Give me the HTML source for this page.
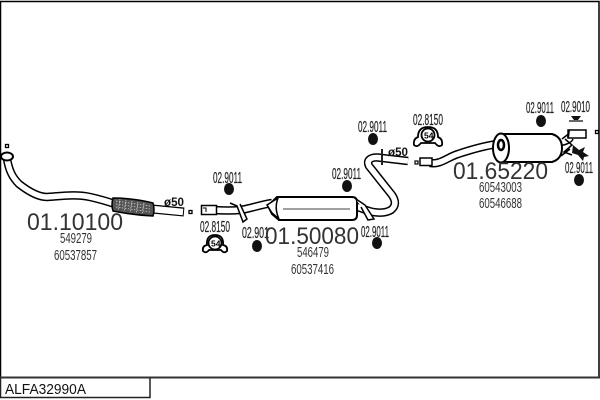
<!DOCTYPE html>
<html><head><meta charset="utf-8"><style>
html,body{margin:0;padding:0;background:#fff}
svg{display:block}
text{font-family:"Liberation Sans",sans-serif}
.s{font-size:15.500px;fill:#222;stroke:#222;stroke-width:.2}
.r{font-size:14.500px;fill:#333}
.b{font-size:24.500px;fill:#333}
</style></head><body>
<svg width="600" height="400" viewBox="0 0 600 400" xmlns="http://www.w3.org/2000/svg">
<rect width="600" height="400" fill="#fff"/>
<path d="M.5 377V1.500H599V377" fill="none" stroke="#000" stroke-width="1.500"/>
<path d="M0 377.500H600" stroke="#333" stroke-width="2"/>
<path d="M.5 378V397.500H150V378" fill="none" stroke="#222" stroke-width="1.500"/>
<text x="5" y="394" font-size="14.500" fill="#111" textLength="81" lengthAdjust="spacingAndGlyphs">ALFA32990A</text>

<!-- pipe 1 -->
<g fill="none" stroke-linejoin="round">
<path d="M7 159C9 170 12 177 19 184C28 191 38 197 47 197C62 196 76 194 90 197C99 199 106 201 115 204" stroke="#000" stroke-width="8.500"/>
<path d="M7 159C9 170 12 177 19 184C28 191 38 197 47 197C62 196 76 194 90 197C99 199 106 201 115 204" stroke="#fff" stroke-width="5.500"/>
<path d="M152 209L184 212" stroke="#000" stroke-width="9"/>
<path d="M152 209L183 212" stroke="#fff" stroke-width="6.500"/>
</g>
<ellipse cx="7" cy="156.500" rx="6" ry="4" fill="#fff" stroke="#000" stroke-width="2"/>
<path d="M113 198Q133 198 153 203Q155 210 153 216Q133 215 113 211Q111 205 113 198Z" fill="#555" stroke="#000" stroke-width="1.500"/>
<path d="M116 201L150 206M116 204L150 209M116 207L150 212M120 199L118 211M126 200L124 212M132 201L130 213M138 202L136 214M144 203L142 214" stroke="#ddd" stroke-width=".7" stroke-dasharray="1.500 1.500"/>
<rect x="5.500" y="144.500" width="3" height="3" fill="#fff" stroke="#000" stroke-width="1.300"/>
<rect x="189" y="210.500" width="3" height="3" fill="#fff" stroke="#000" stroke-width="1.300"/>

<!-- muffler 2 and pipes -->
<g fill="none" stroke-linejoin="round">
<path d="M214 210C228 211 240 211 250 208C258 206 265 204 272 203" stroke="#000" stroke-width="8.500"/>
<path d="M214 210C228 211 240 211 250 208C258 206 265 204 272 203" stroke="#fff" stroke-width="5.500"/>
<path d="M355 206L366 210C374 213 384 214 391 210C396 206 396 201 392 195L369 166C366 160 371 157 378 157.500L408 161" stroke="#000" stroke-width="8.500"/>
<path d="M355 206L366 210C374 213 384 214 391 210C396 206 396 201 392 195L369 166C366 160 371 157 378 157.500L408 161" stroke="#fff" stroke-width="5.500"/>
</g>
<rect x="201.500" y="205.500" width="15" height="9" fill="#fff" stroke="#000" stroke-width="1.500"/>
<path d="M203 208H206V212" fill="none" stroke="#000"/>
<path d="M268 206L277 197H352Q357 197 357 202V215Q357 220 352 220H279L272 214Z" fill="#fff" stroke="#000" stroke-width="2"/>
<path d="M267 205L278 198Q274 208 279 219L272 213Z" fill="#fff" stroke="#000" stroke-width="1.500"/>
<path d="M283 209H350" stroke="#000" stroke-width=".8"/>
<path d="M230 203L237 206L243 222L247 219L240 204" fill="#fff" stroke="#000" stroke-width="1.500"/>
<path d="M356 199L365 205L374 219L368 220L361 207" fill="#fff" stroke="#000" stroke-width="1.500"/>

<!-- muffler 3 and pipes -->
<rect x="381" y="149" width="2" height="16" fill="#222"/>
<rect x="415" y="161" width="3" height="3" fill="#fff" stroke="#000" stroke-width="1.200"/>
<g fill="none">
<path d="M430 163C440 165 448 157 458 154C470 150 484 146 497 144" stroke="#000" stroke-width="8.500"/>
<path d="M430 163C440 165 448 157 458 154C470 150 484 146 497 144" stroke="#fff" stroke-width="5.500"/>
<path d="M556 146C563 146 572 143 573 139" stroke="#000" stroke-width="1.500"/>
</g>
<rect x="420" y="158" width="12" height="7.500" fill="#fff" stroke="#000" stroke-width="1.500"/>
<path d="M500 134H552Q562 137 562 148Q562 159 552 162H500Z" fill="#fff" stroke="#000" stroke-width="2"/>
<ellipse cx="501" cy="148" rx="8" ry="14.500" fill="#fff" stroke="#000" stroke-width="2"/>
<ellipse cx="501" cy="145" rx="3" ry="5" fill="#fff" stroke="#000" stroke-width="2.500"/>
<path d="M562 139L571 132M565 139L572 145L564 152L572 155M561 156L570 149" fill="none" stroke="#000" stroke-width="1.500"/>
<rect x="568" y="130" width="18" height="8" fill="#fff" stroke="#000" stroke-width="1.500"/>
<path d="M569 130L568 138" stroke="#000" stroke-width="2"/>
<path d="M573 145L579 150L585 147L583 152L589 156L584 157L583 161L578 155L572 153Z" fill="#111"/>
<rect x="595.500" y="130.500" width="3" height="3" fill="#fff" stroke="#000" stroke-width="1.300"/>
<path d="M571 116H581L578 120H574Z" fill="#111"/>
<path d="M569 121H583" stroke="#000" stroke-width="1.200"/>

<!-- dots -->
<g fill="#111">
<ellipse cx="229" cy="189" rx="5" ry="6"/><ellipse cx="257" cy="246" rx="5" ry="6"/><ellipse cx="347" cy="186" rx="5" ry="6"/><ellipse cx="377" cy="243" rx="5" ry="6"/>
<ellipse cx="373" cy="139" rx="5" ry="6"/><ellipse cx="541" cy="121" rx="5" ry="6"/><ellipse cx="579" cy="180" rx="5" ry="6"/>
</g>

<!-- clamps -->
<g fill="#fff" stroke="#000" stroke-width="1.800">
<path d="M203 251Q202 246 207 245Q206 235 215 235Q224 235 223 245Q228 246 227 251Q224 254 221 250H209Q206 254 203 251Z"/>
<circle cx="215" cy="243" r="6.500"/>
<path d="M414 145Q413 139 418 137Q418 127 428 127Q438 127 438 137Q443 139 442 145Q439 148 435 143H421Q417 148 414 145Z"/>
<circle cx="428" cy="135" r="6.500"/>
</g>
<text x="211" y="246.500" font-size="8.500" font-weight="bold" fill="#000">54</text>
<text x="424" y="138.500" font-size="8.500" font-weight="bold" fill="#000">54</text>

<!-- labels -->
<g>
<text class="s" x="213" y="183" textLength="29" lengthAdjust="spacingAndGlyphs">02.9011</text>
<text class="s" x="200" y="232" textLength="30" lengthAdjust="spacingAndGlyphs">02.8150</text>
<text class="s" x="242" y="238" textLength="27" lengthAdjust="spacingAndGlyphs">02.901</text>
<text class="s" x="332" y="179" textLength="29" lengthAdjust="spacingAndGlyphs">02.9011</text>
<text class="s" x="361" y="237" textLength="28" lengthAdjust="spacingAndGlyphs">02.9011</text>
<text class="s" x="358" y="132" textLength="29" lengthAdjust="spacingAndGlyphs">02.9011</text>
<text class="s" x="413" y="125" textLength="30" lengthAdjust="spacingAndGlyphs">02.8150</text>
<text class="s" x="526" y="113" textLength="28" lengthAdjust="spacingAndGlyphs">02.9011</text>
<text class="s" x="561" y="112" textLength="29" lengthAdjust="spacingAndGlyphs">02.9010</text>
<text class="s" x="565" y="173" textLength="28" lengthAdjust="spacingAndGlyphs">02.9011</text>
<text class="b" x="27" y="230" textLength="96" lengthAdjust="spacingAndGlyphs">01.10100</text>
<text class="b" x="265" y="244" textLength="94" lengthAdjust="spacingAndGlyphs">01.50080</text>
<text class="b" x="453" y="179" textLength="95" lengthAdjust="spacingAndGlyphs">01.65220</text>
<text class="r" x="60" y="243" textLength="32" lengthAdjust="spacingAndGlyphs">549279</text>
<text class="r" x="54" y="260" textLength="43" lengthAdjust="spacingAndGlyphs">60537857</text>
<text class="r" x="297" y="257" textLength="32" lengthAdjust="spacingAndGlyphs">546479</text>
<text class="r" x="291" y="274" textLength="43" lengthAdjust="spacingAndGlyphs">60537416</text>
<text class="r" x="479" y="192" textLength="43" lengthAdjust="spacingAndGlyphs">60543003</text>
<text class="r" x="479" y="208" textLength="43" lengthAdjust="spacingAndGlyphs">60546688</text>
<text x="164" y="206" font-size="11.500" font-weight="bold" fill="#111" textLength="20" lengthAdjust="spacingAndGlyphs">ø50</text>
<text x="388" y="156" font-size="11.500" font-weight="bold" fill="#111" textLength="20" lengthAdjust="spacingAndGlyphs">ø50</text>
</g>
</svg>
</body></html>
